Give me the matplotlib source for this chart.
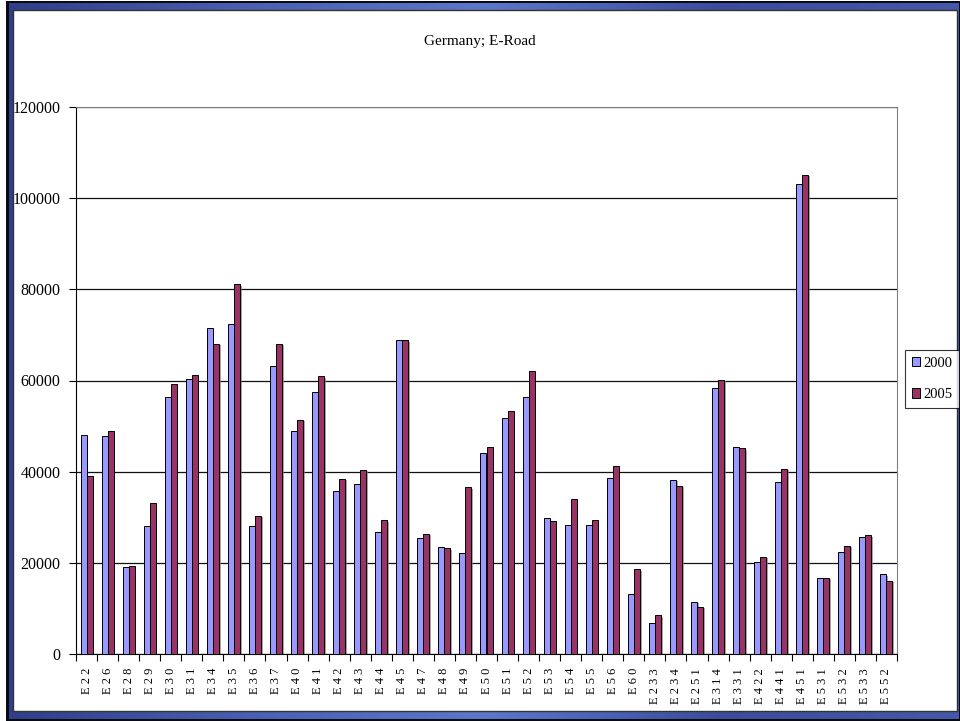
import numpy as np
import matplotlib
matplotlib.use('Agg')
import matplotlib.pyplot as plt
import matplotlib.patheffects as pe
from matplotlib.patches import Rectangle
from matplotlib.colors import LinearSegmentedColormap

plt.rcParams['font.family'] = ['Liberation Serif', 'DejaVu Serif']

roads = ['E22', 'E26', 'E28', 'E29', 'E30', 'E31', 'E34', 'E35', 'E36', 'E37',
         'E40', 'E41', 'E42', 'E43', 'E44', 'E45', 'E47', 'E48', 'E49', 'E50',
         'E51', 'E52', 'E53', 'E54', 'E55', 'E56', 'E60', 'E233', 'E234', 'E251',
         'E314', 'E331', 'E422', 'E441', 'E451', 'E531', 'E532', 'E533', 'E552']
y2000 = [48100, 47800, 19100, 28100, 56300, 60400, 71500, 72400, 28100, 63100,
         48900, 57400, 35800, 37400, 26700, 68800, 25400, 23500, 22100, 44000,
         51700, 56300, 29800, 28400, 28400, 38700, 13100, 6900, 38200, 11500,
         58300, 45400, 20200, 37700, 103000, 16700, 22400, 25700, 17500]
y2005 = [39000, 48900, 19400, 33100, 59200, 61200, 68000, 81100, 30300, 68000,
         51400, 60900, 38500, 40400, 29300, 68800, 26400, 23200, 36600, 45400,
         53200, 62000, 29200, 33900, 29300, 41300, 18600, 8500, 36900, 10400,
         60100, 45100, 21300, 40600, 105100, 16700, 23800, 26000, 16100]
years = ['2000', '2005']
colors = ['#9999FF', '#993366']

fig = plt.figure(figsize=(9.6, 7.21), dpi=100)

# slide-like frame around the chart
bg = fig.add_axes([0, 0, 1, 1], zorder=-1)
bg.add_patch(Rectangle((6, 1), 954, 720, facecolor='#0a0a14', edgecolor='none', zorder=1))
cmap = LinearSegmentedColormap.from_list('frame', ['#2f3f88', '#4a5fb0', '#5c78c8', '#3b4c9c', '#4658a8'])
grad = np.linspace(0, 1, 256).reshape(1, -1)
bg.imshow(grad, extent=[8.5, 958, 719, 3.5], cmap=cmap, aspect='auto', zorder=2)
bg.add_patch(Rectangle((12.5, 10), 944, 701, facecolor='white', edgecolor='#333333', lw=1, zorder=3))
bg.set_xlim(0, 960)
bg.set_ylim(721, 0)
bg.axis('off')

ax = fig.add_axes([76 / 960, 1 - 654 / 721, (897 - 76) / 960, (654 - 107) / 721])
x = np.arange(len(roads))
w = 1 / 3.5
shadow = [pe.SimplePatchShadow(offset=(1.2, -1), shadow_rgbFace='#808080', alpha=0.7), pe.Normal()]
for i, (vals, c, lab) in enumerate(zip([y2000, y2005], colors, years)):
    bars = ax.bar(x + (i - 0.5) * w, vals, w, color=c, edgecolor='black', lw=0.7, label=lab, zorder=3)
    for b in bars:
        b.set_path_effects(shadow)

ax.set_xlim(-0.5, len(roads) - 0.5)
ax.set_ylim(0, 120000)
ax.set_yticks(np.arange(0, 120001, 20000))
ax.set_yticklabels([str(v) for v in range(0, 120001, 20000)], fontsize=11.5)
ax.yaxis.grid(True, color='#111111', lw=0.9)
ax.set_axisbelow(True)

ax.set_xticks(np.arange(-0.5, len(roads), 1))
ax.set_xticklabels([])
ax.set_xticks(x, minor=True)
ax.set_xticklabels([' '.join(r) for r in roads], minor=True, rotation=90, fontsize=9)
ax.tick_params(axis='x', which='major', length=5, width=0.8, direction='out')
ax.tick_params(axis='x', which='minor', length=0, pad=10)
ax.tick_params(axis='y', length=5, width=0.8, direction='out', pad=6)

for s in ['top', 'right']:
    ax.spines[s].set_color('#808080')
for s in ['left', 'bottom']:
    ax.spines[s].set_color('black')

fig.text(480 / 960, 1 - 42 / 721, 'Germany; E-Road', ha='center', va='center', fontsize=11)

leg = fig.legend(loc='center left', bbox_to_anchor=(905 / 960, 1 - 379 / 721), fontsize=10.5,
                 frameon=True, fancybox=False, edgecolor='black', handlelength=0.6,
                 handleheight=0.6, handletextpad=0.2, borderpad=0.45, labelspacing=1.25,
                 borderaxespad=0)
leg.get_frame().set_linewidth(0.8)
for h in leg.legend_handles:
    h.set_path_effects([])

fig.savefig('out.png', dpi=100)
